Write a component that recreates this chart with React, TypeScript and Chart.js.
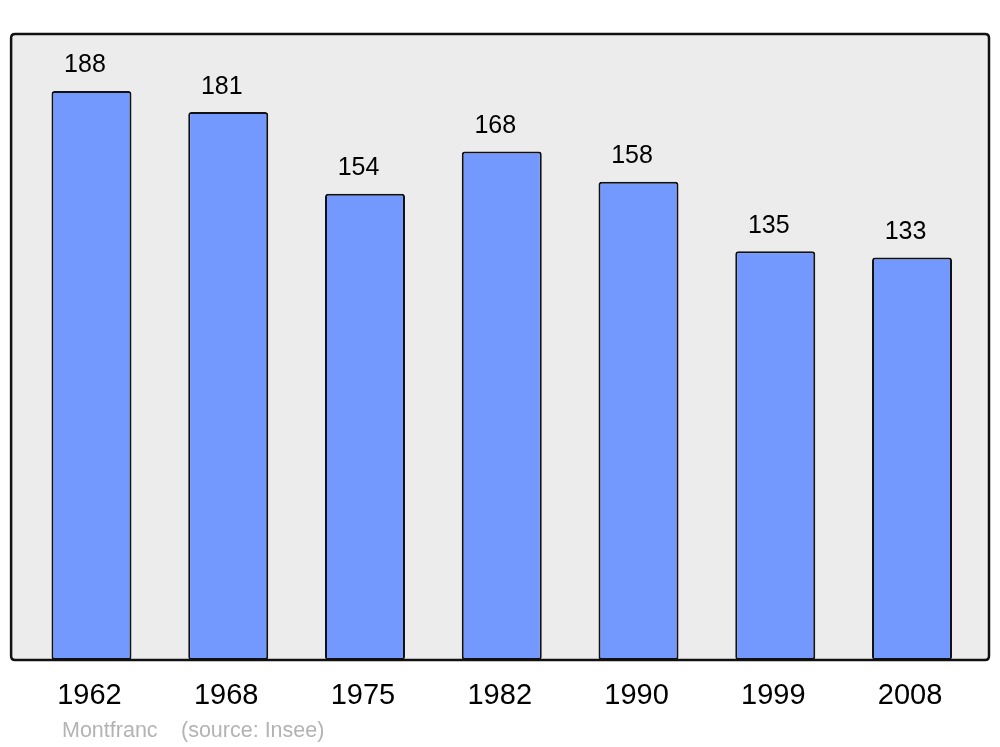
import React, { useEffect, useRef } from "react";
import { Chart, registerables } from "chart.js";

Chart.register(...registerables);

const years = ["1962", "1968", "1975", "1982", "1990", "1999", "2008"];
const population = [188, 181, 154, 168, 158, 135, 133];
const footerName = "Montfranc";
const footerSource = "(source: Insee)";

const FONT = "'Liberation Sans', Arial, sans-serif";

function roundRect(ctx: CanvasRenderingContext2D, x: number, y: number, w: number, h: number, r: number) {
  ctx.beginPath();
  ctx.moveTo(x + r, y);
  ctx.lineTo(x + w - r, y);
  ctx.quadraticCurveTo(x + w, y, x + w, y + r);
  ctx.lineTo(x + w, y + h - r);
  ctx.quadraticCurveTo(x + w, y + h, x + w - r, y + h);
  ctx.lineTo(x + r, y + h);
  ctx.quadraticCurveTo(x, y + h, x, y + h - r);
  ctx.lineTo(x, y + r);
  ctx.quadraticCurveTo(x, y, x + r, y);
  ctx.closePath();
}

const framePlugin = {
  id: "frame",
  beforeDatasetsDraw(chart: any) {
    const { ctx, chartArea } = chart;
    const x = chartArea.left - 12;
    const w = chartArea.right + 8.6 - x;
    ctx.save();
    roundRect(ctx, x, chartArea.top, w, chartArea.bottom - chartArea.top, 4);
    ctx.fillStyle = "#ececec";
    ctx.fill();
    ctx.restore();
  },
  afterDatasetsDraw(chart: any) {
    const { ctx, chartArea } = chart;
    const x = chartArea.left - 12;
    const w = chartArea.right + 8.6 - x;
    ctx.save();
    roundRect(ctx, x, chartArea.top, w, chartArea.bottom - chartArea.top, 4);
    ctx.lineWidth = 2.5;
    ctx.strokeStyle = "#111111";
    ctx.stroke();

    // value labels
    const meta = chart.getDatasetMeta(0);
    ctx.fillStyle = "#000000";
    ctx.font = `25px ${FONT}`;
    ctx.textAlign = "center";
    ctx.textBaseline = "alphabetic";
    meta.data.forEach((bar: any, i: number) => {
      ctx.fillText(String(chart.data.datasets[0].data[i]), bar.x - 6.5, bar.y - 18.5);
    });

    // footer
    ctx.fillStyle = "#b3b3b3";
    ctx.font = `21.5px ${FONT}`;
    ctx.textAlign = "left";
    ctx.fillText(footerName, 62, 737);
    ctx.fillText(footerSource, 181, 737);
    ctx.restore();
  },
};

export default function App() {
  const ref = useRef<HTMLCanvasElement | null>(null);
  useEffect(() => {
    if (!ref.current) return;
    const chart = new Chart(ref.current, {
      type: "bar",
      data: {
        labels: years,
        datasets: [
          {
            data: population,
            backgroundColor: "#7399ff",
            borderColor: "#111111",
            borderWidth: 2,
            borderRadius: 3,
            borderSkipped: false,
            barPercentage: 0.585,
            categoryPercentage: 1,
          },
        ],
      },
      options: {
        responsive: false,
        animation: false,
        devicePixelRatio: 1,
        layout: { padding: { left: 23.1, right: 19.6, top: 34, bottom: 0 } },
        plugins: { legend: { display: false }, tooltip: { enabled: false }, title: { display: false } },
        scales: {
          x: {
            grid: { display: false, drawTicks: false },
            border: { display: false },
            ticks: {
              color: "#000000",
              font: { family: FONT, size: 29 },
              padding: 19,
              labelOffset: -2,
              maxRotation: 0,
            },
            afterFit(scale: any) {
              scale.height = 87;
            },
          },
          y: {
            display: false,
            min: 0,
            max: 206.8,
          },
        },
      },
      plugins: [framePlugin],
    });
    return () => chart.destroy();
  }, []);
  return (
    <div style={{ position: "fixed", left: 0, top: 0, width: 1000, height: 747, background: "#ffffff" }}>
      <canvas ref={ref} width={1000} height={747} />
    </div>
  );
}
